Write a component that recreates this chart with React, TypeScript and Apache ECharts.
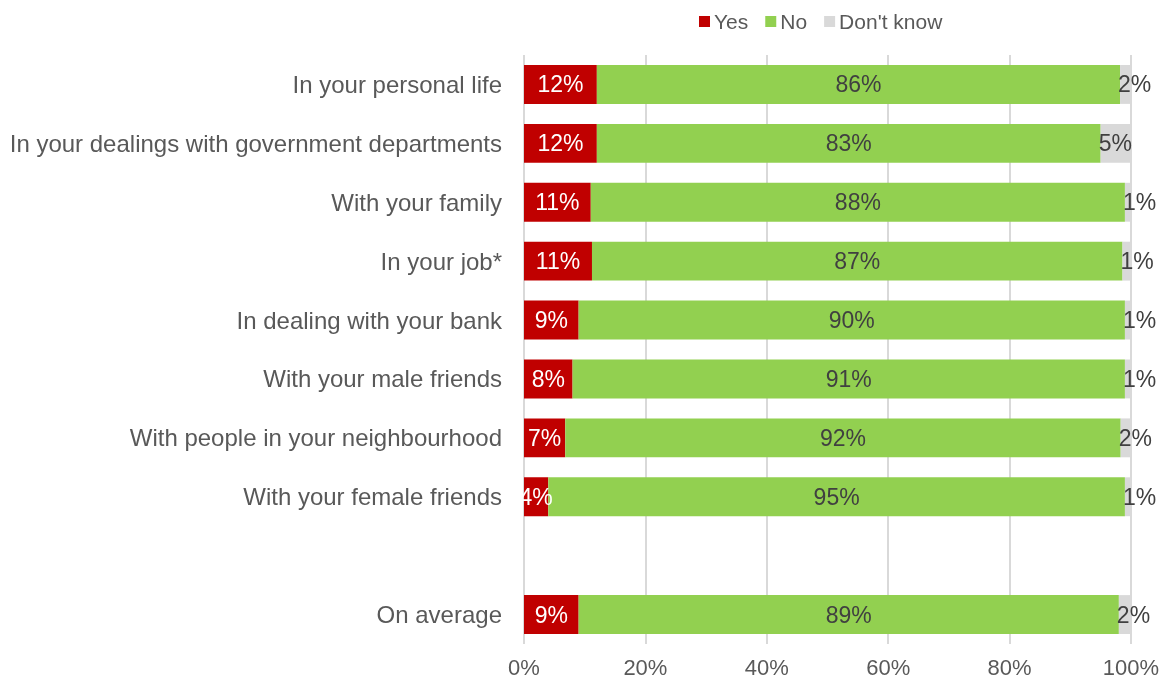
import React, { useEffect, useRef } from "react";
import * as echarts from "echarts";

const categories = [
  "In your personal life",
  "In your dealings with government departments",
  "With your family",
  "In your job*",
  "In dealing with your bank",
  "With your male friends",
  "With people in your neighbourhood",
  "With your female friends",
  "",
  "On average",
];
const yesValues = [12, 12, 11, 11.2, 9, 8, 6.8, 4, null, 9];
const noValues = [86.2, 83, 88, 87.4, 90, 91, 91.5, 95, null, 89];
const dkValues = [1.8, 5, 1, 1.4, 1, 1, 1.7, 1, null, 2];
const xTicks = [0, 20, 40, 60, 80, 100];

const FONT = "Liberation Sans, Arial, sans-serif";

export default function App() {
  const ref = useRef<HTMLDivElement>(null);
  useEffect(() => {
    if (!ref.current) return;
    const chart = echarts.init(ref.current, undefined, { renderer: "svg" });
    const labelFmt = (p: any) => (p.value == null ? "" : Math.round(p.value) + "%");
    chart.setOption({
      animation: false,
      textStyle: { fontFamily: FONT },
      legend: {
        left: 694,
        top: 6,
        itemWidth: 11,
        itemHeight: 11,
        itemGap: 17,
        icon: "rect",
        textStyle: { fontSize: 21, color: "#595959", fontFamily: FONT, padding: [0, 0, 0, -1] },
        data: ["Yes", "No", "Don't know"],
      },
      grid: { left: 524, right: 39, top: 55, bottom: 37, containLabel: false },
      xAxis: {
        type: "value",
        min: xTicks[0],
        max: xTicks[xTicks.length - 1],
        interval: 20,
        axisLine: { show: false },
        axisTick: { show: false },
        splitLine: { show: true, lineStyle: { color: "#D9D9D9", width: 2 } },
        axisLabel: {
          formatter: (v: number) => v + "%",
          color: "#595959",
          fontSize: 22,
          fontFamily: FONT,
          margin: 12,
        },
      },
      yAxis: {
        type: "category",
        inverse: true,
        data: categories,
        axisLine: { show: false },
        axisTick: { show: false },
        axisLabel: { color: "#595959", fontSize: 24, fontFamily: FONT, margin: 22 },
      },
      series: [
        {
          name: "Yes",
          type: "bar",
          stack: "s",
          barCategoryGap: "34%",
          data: yesValues,
          itemStyle: { color: "#C00000" },
          label: { show: true, position: "inside", color: "#FFFFFF", fontSize: 23, fontFamily: FONT, formatter: labelFmt },
        },
        {
          name: "No",
          type: "bar",
          stack: "s",
          data: noValues,
          itemStyle: { color: "#92D050" },
          label: { show: true, position: "inside", color: "#404040", fontSize: 23, fontFamily: FONT, formatter: labelFmt },
        },
        {
          name: "Don't know",
          type: "bar",
          stack: "s",
          data: dkValues,
          itemStyle: { color: "#D9D9D9" },
          label: {
            show: true,
            position: "insideLeft",
            distance: -2,
            color: "#404040",
            fontSize: 23,
            fontFamily: FONT,
            formatter: labelFmt,
          },
        },
      ],
    });
    return () => chart.dispose();
  }, []);
  return (
    <div
      ref={ref}
      style={{ position: "fixed", left: 0, top: 0, width: 1170, height: 681 }}
    />
  );
}
